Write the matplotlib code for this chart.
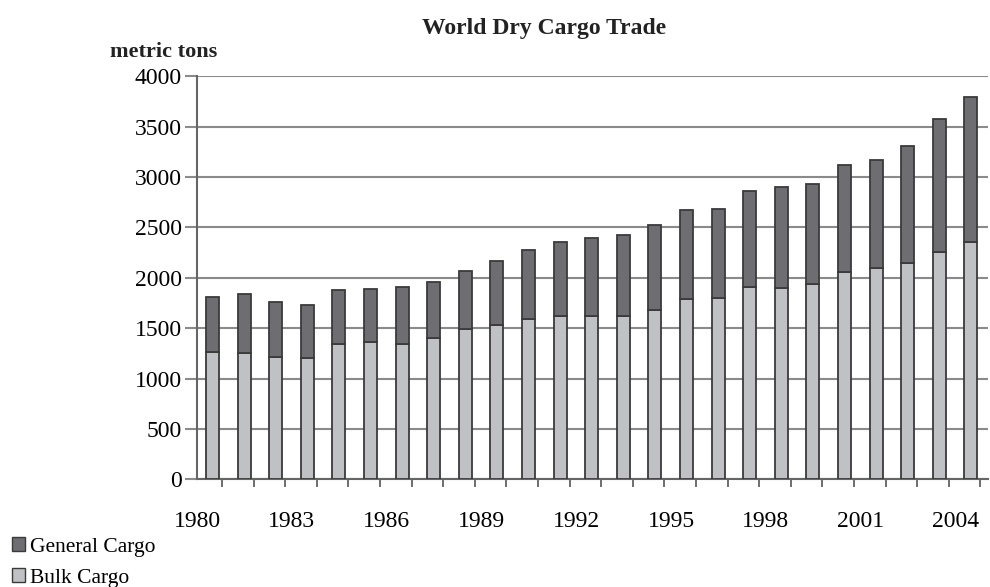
import numpy as np
import matplotlib
matplotlib.use("Agg")
import matplotlib.pyplot as plt
from matplotlib.patches import Patch

plt.rcParams['font.family'] = ['Liberation Serif', 'DejaVu Serif']

years = list(range(1980, 2005))
bulk_cargo = [1260, 1255, 1215, 1200, 1345, 1365, 1340, 1400, 1490, 1530,
              1590, 1620, 1620, 1625, 1680, 1790, 1800, 1910, 1900, 1935,
              2060, 2095, 2150, 2260, 2360]
general_cargo = [545, 580, 540, 530, 530, 520, 565, 560, 575, 640,
                 690, 740, 775, 800, 845, 880, 880, 950, 1005, 995,
                 1055, 1070, 1160, 1315, 1435]
yticks = [0, 500, 1000, 1500, 2000, 2500, 3000, 3500, 4000]

dark = '#6e6e72'
light = '#c0c1c4'
edge = '#3a3a3a'

fig = plt.figure(figsize=(9.9, 5.87), dpi=100)
ax = fig.add_axes([0.199, 0.1835, 0.799, 0.6865])

x = np.arange(len(years))
ax.bar(x, bulk_cargo, width=0.41, color=light, edgecolor=edge, linewidth=1.3, zorder=3)
ax.bar(x, general_cargo, width=0.41, bottom=bulk_cargo, color=dark,
       edgecolor=edge, linewidth=1.3, zorder=3)

ax.set_xlim(-0.33, 24.54)
ax.set_ylim(0, 4000)
ax.set_yticks(yticks)
ax.set_yticklabels([str(v) for v in yticks], fontsize=17)
ax.grid(axis='y', color='#8a8a8a', linewidth=1.5, zorder=0)

# year labels sit on category boundaries, ticks sit just right of bars
label_idx = x[::3]
ax.set_xticks(label_idx - 0.49)
ax.set_xticklabels([str(years[i]) for i in label_idx], fontsize=17)
ax.tick_params(axis='x', length=0, pad=23)
ax.set_xticks(x + 0.3, minor=True)
ax.tick_params(axis='x', which='minor', length=6, width=1.2, color='#555555', direction='out')
ax.tick_params(axis='y', length=9, width=1.5, color='#8a8a8a', pad=2)

for s in ['top', 'right']:
    ax.spines[s].set_visible(False)
ax.spines['left'].set_color('#666666')
ax.spines['left'].set_linewidth(1.5)
ax.spines['bottom'].set_color('#666666')
ax.spines['bottom'].set_linewidth(1.5)

fig.text(0.55, 0.952, "World Dry Cargo Trade", fontsize=17, fontweight='bold',
         ha='center', va='center', color='#222222')
fig.text(0.111, 0.912, "metric tons", fontsize=16, fontweight='bold',
         ha='left', va='center', color='#222222')

handles = [Patch(facecolor=dark, edgecolor=edge, label='General Cargo'),
           Patch(facecolor=light, edgecolor=edge, label='Bulk Cargo')]
fig.legend(handles=handles, loc='lower left', bbox_to_anchor=(-0.003, -0.027),
           frameon=False, fontsize=15.5, handlelength=0.6, handleheight=0.6,
           handletextpad=0.25, labelspacing=0.55, borderpad=0.2)

fig.savefig("out.png", dpi=100)
